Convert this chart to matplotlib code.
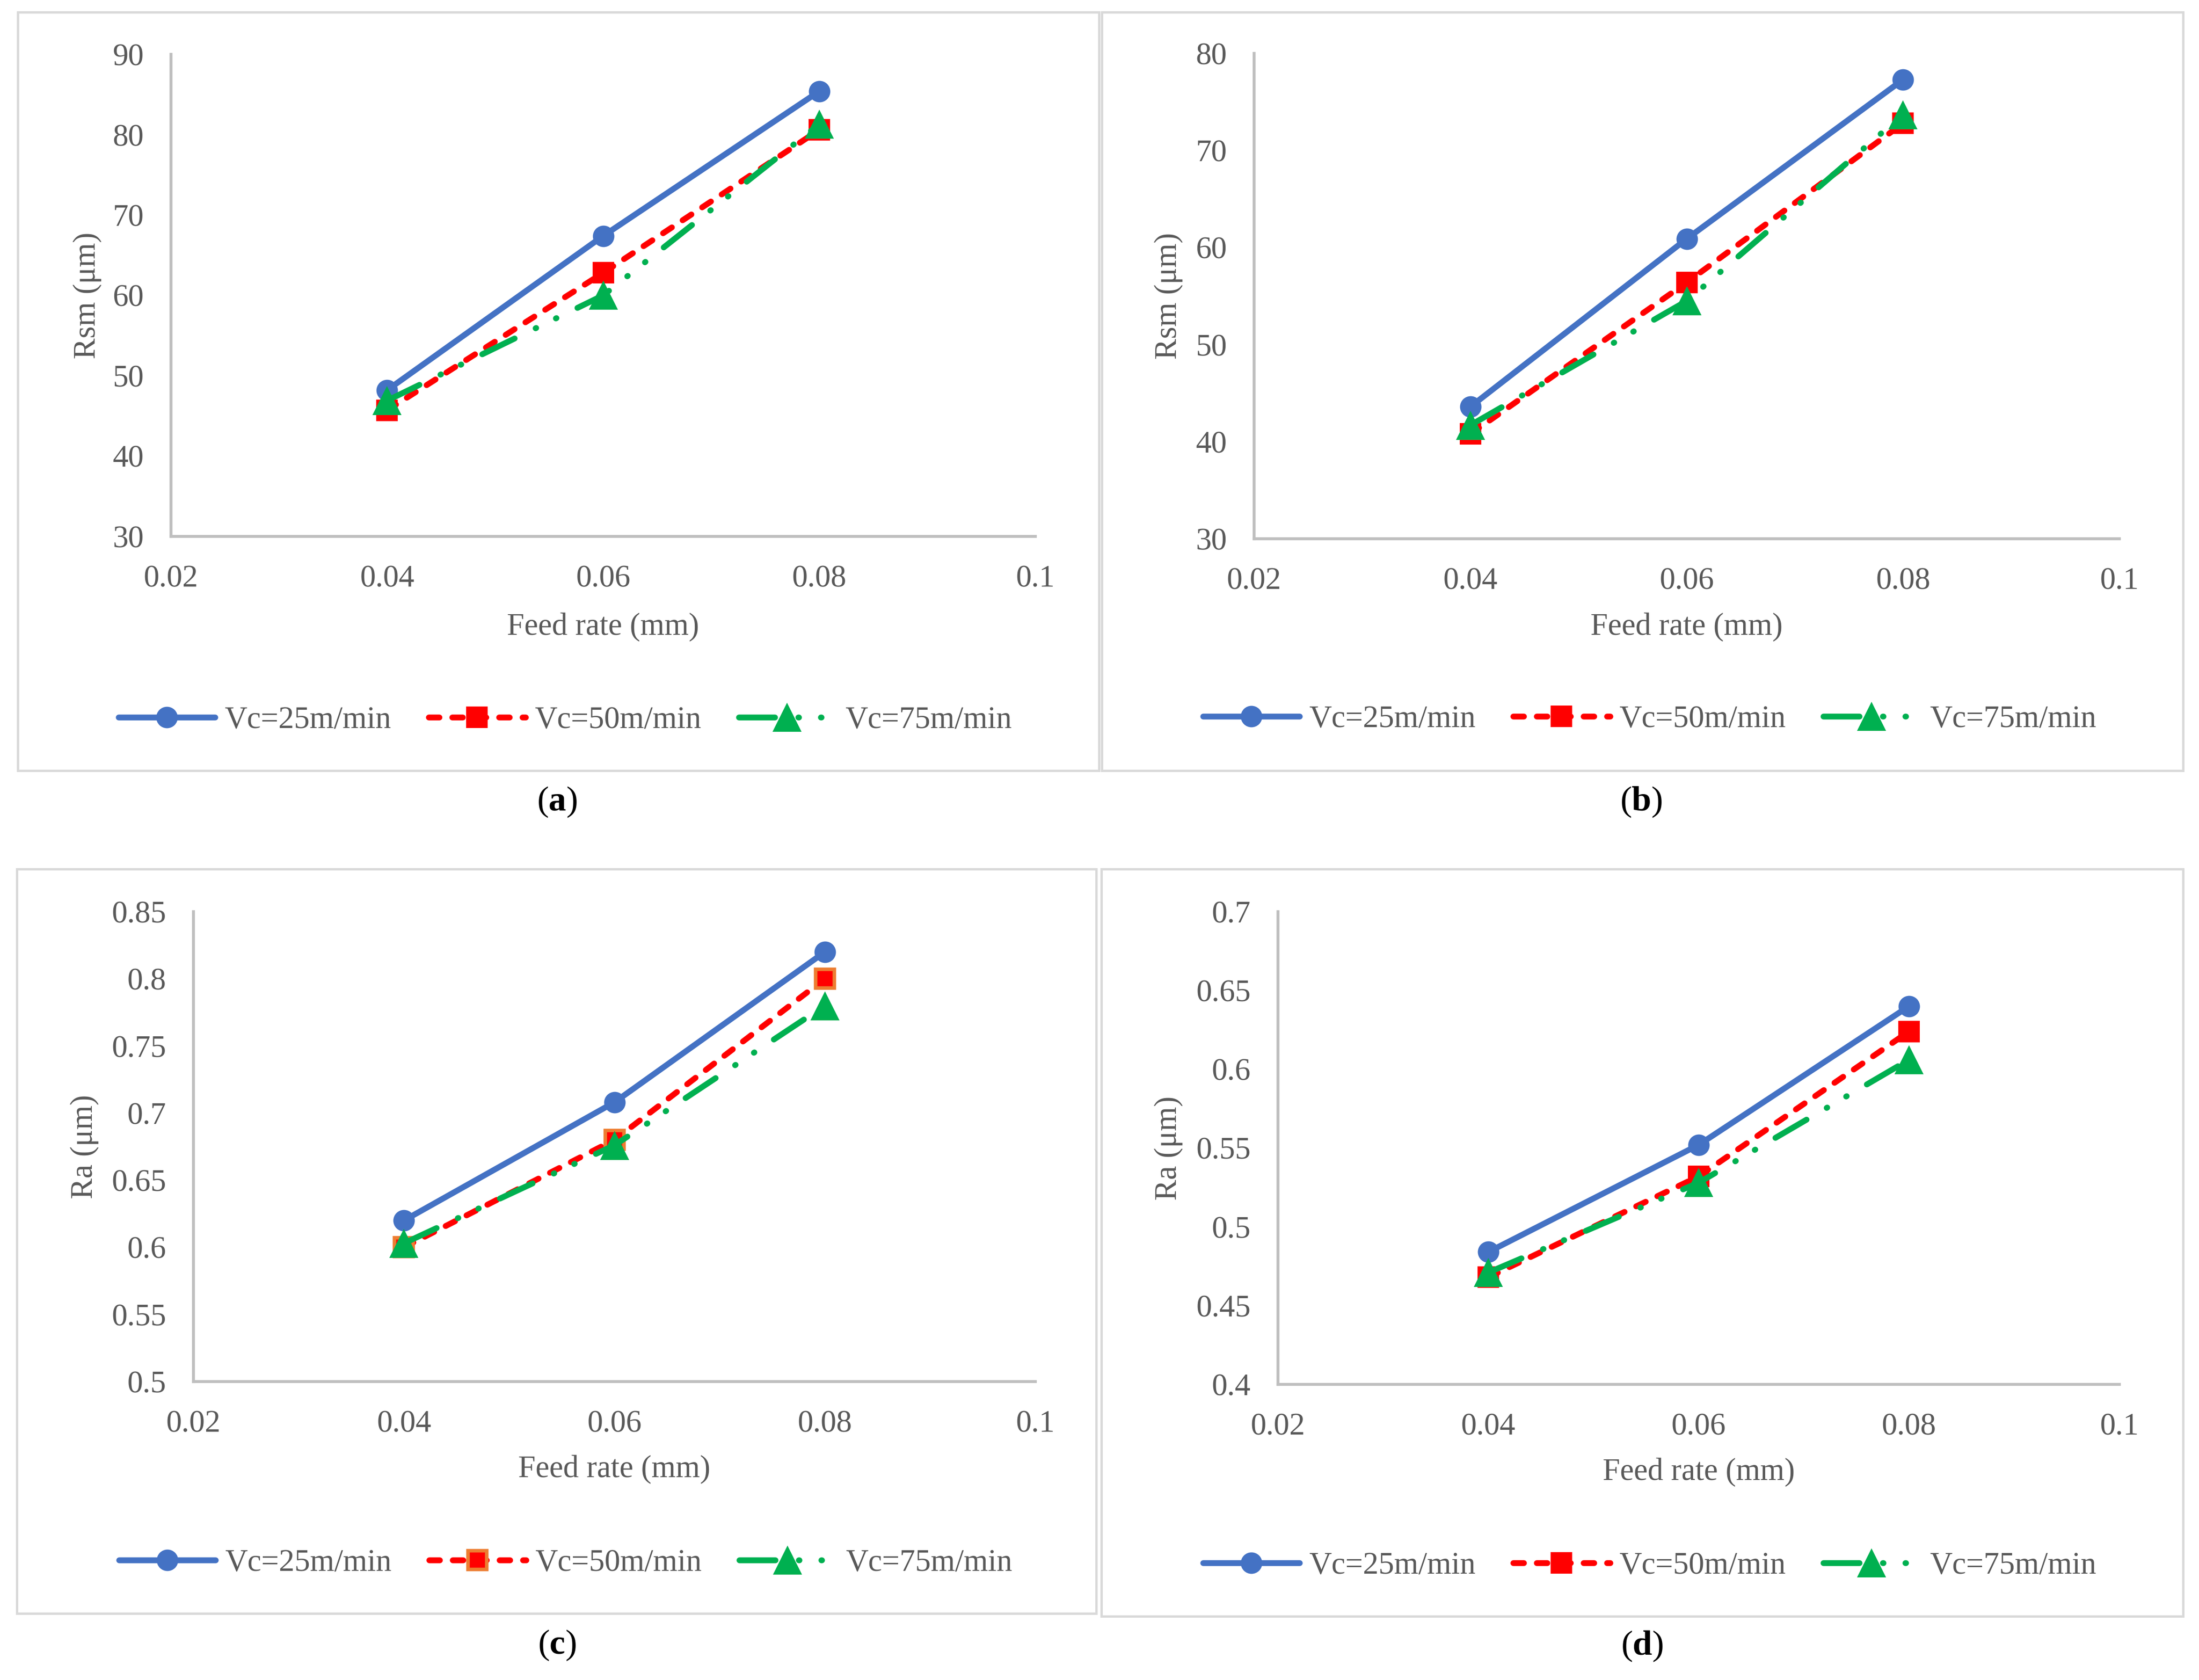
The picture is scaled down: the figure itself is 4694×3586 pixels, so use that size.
import numpy as np
import matplotlib
matplotlib.use("Agg")
import matplotlib.pyplot as plt
from matplotlib.patches import Rectangle

plt.rcParams['font.family'] = ['Liberation Serif', 'DejaVu Serif']
plt.rcParams['mathtext.fontset'] = 'custom'
plt.rcParams['mathtext.rm'] = 'Liberation Serif'
plt.rcParams['mathtext.bf'] = 'Liberation Serif:bold'

# data
feed = [0.04, 0.06, 0.08]
labels = ['Vc=25m/min', 'Vc=50m/min', 'Vc=75m/min']

rsm_a_25 = [48.2, 67.4, 85.4]
rsm_a_50 = [45.7, 62.8, 80.6]
rsm_a_75 = [46.9, 60.0, 81.3]

rsm_b_25 = [43.6, 60.9, 77.3]
rsm_b_50 = [40.8, 56.4, 72.8]
rsm_b_75 = [41.7, 54.5, 73.7]

ra_c_25 = [0.620, 0.708, 0.820]
ra_c_50 = [0.600, 0.680, 0.800]
ra_c_75 = [0.603, 0.676, 0.780]

ra_d_25 = [0.484, 0.552, 0.640]
ra_d_50 = [0.468, 0.532, 0.624]
ra_d_75 = [0.471, 0.528, 0.606]

xticks = [0.02, 0.04, 0.06, 0.08, 0.1]
xtick_labels = ['0.02', '0.04', '0.06', '0.08', '0.1']
yticks_a = [30, 40, 50, 60, 70, 80, 90]
yticks_b = [30, 40, 50, 60, 70, 80]
yticks_c = [0.5, 0.55, 0.6, 0.65, 0.7, 0.75, 0.8, 0.85]
ytick_labels_c = ['0.5', '0.55', '0.6', '0.65', '0.7', '0.75', '0.8', '0.85']
yticks_d = [0.4, 0.45, 0.5, 0.55, 0.6, 0.65, 0.7]
ytick_labels_d = ['0.4', '0.45', '0.5', '0.55', '0.6', '0.65', '0.7']

W, H = 4694, 3586
fig = plt.figure(figsize=(W / 300, H / 300), dpi=300)

def fx(px):
    return px / W

def fy(py):
    return 1 - py / H

GREY = '#595959'
BLUE, RED, GREEN = '#4472C4', '#FF0000', '#00B050'
LW = 3.0

# panel frames: left, top, right, bottom (pixels)
frames = [(38, 26, 2346, 1645), (2352, 26, 4660, 1645),
          (36, 1855, 2340, 3444), (2351, 1855, 4660, 3450)]
for l, t, r, b in frames:
    fig.add_artist(Rectangle((fx(l), fy(b)), fx(r) - fx(l), fy(t) - fy(b),
                             transform=fig.transFigure, fill=False,
                             edgecolor='#D9D9D9', linewidth=1.2))

panels = [
    dict(box=(365, 116, 2210, 1145), ys=(rsm_a_25, rsm_a_50, rsm_a_75),
         yt=yticks_a, ytl=[str(v) for v in yticks_a], ylab='Rsm (μm)',
         ylx=186, xly=1338, leg=(1206, 1538), cap=(1189, 1712), letter='a',
         sq_edge=None),
    dict(box=(2677, 114, 4524, 1150), ys=(rsm_b_25, rsm_b_50, rsm_b_75),
         yt=yticks_b, ytl=[str(v) for v in yticks_b], ylab='Rsm (μm)',
         ylx=2494, xly=1338, leg=(3521, 1536), cap=(3503, 1712), letter='b',
         sq_edge=None),
    dict(box=(413, 1946, 2210, 2949), ys=(ra_c_25, ra_c_50, ra_c_75),
         yt=yticks_c, ytl=ytick_labels_c, ylab='Ra (μm)',
         ylx=180, xly=3136, leg=(1207, 3337), cap=(1189, 3512), letter='c',
         sq_edge='#ED7D31'),
    dict(box=(2728, 1946, 4524, 2955), ys=(ra_d_25, ra_d_50, ra_d_75),
         yt=yticks_d, ytl=ytick_labels_d, ylab='Ra (μm)',
         ylx=2494, xly=3142, leg=(3521, 3343), cap=(3505, 3514), letter='d',
         sq_edge=None),
]

for p in panels:
    x0, y0, x1, y1 = p['box']
    ax = fig.add_axes([fx(x0), fy(y1), fx(x1) - fx(x0), fy(y0) - fy(y1)])
    y25, y50, y75 = p['ys']
    ax.plot(feed, y25, color=BLUE, lw=LW, marker='o', ms=11, mew=0,
            solid_capstyle='round', label=labels[0])
    if p['sq_edge']:
        ax.plot(feed, y50, color=RED, lw=LW, marker='s', ms=9.4, mfc=RED,
                mec=p['sq_edge'], mew=1.8, dashes=(1.8, 2.2),
                dash_capstyle='round', label=labels[1])
    else:
        ax.plot(feed, y50, color=RED, lw=LW, marker='s', ms=11, mew=0,
                dashes=(1.8, 2.2), dash_capstyle='round', label=labels[1])
    ax.plot(feed, y75, color=GREEN, lw=LW, marker='^', ms=15, mew=0,
            dashes=(6.15, 3.99, 0.1, 3.75, 0.1, 3.99), dash_capstyle='round',
            label=labels[2])

    ax.set_xlim(xticks[0], xticks[-1])
    ax.set_ylim(p['yt'][0], p['yt'][-1])
    ax.set_xticks(xticks)
    ax.set_xticklabels(xtick_labels)
    ax.set_yticks(p['yt'])
    ax.set_yticklabels(p['ytl'])
    ax.tick_params(length=0, labelsize=16, labelcolor=GREY)
    ax.tick_params(axis='y', pad=13.9)
    ax.tick_params(axis='x', pad=14.6)
    for s in ['top', 'right']:
        ax.spines[s].set_visible(False)
    for s in ['left', 'bottom']:
        ax.spines[s].set_color('#BFBFBF')
        ax.spines[s].set_linewidth(1.5)
    ax.set_facecolor('none')

    ax.set_xlabel('Feed rate (mm)', fontsize=16, color=GREY)
    ax.xaxis.set_label_coords(fx((x0 + x1) / 2), fy(p['xly']),
                              transform=fig.transFigure)
    ax.xaxis.label.set_va('center')
    ax.set_ylabel(p['ylab'], fontsize=16, color=GREY)
    ax.yaxis.set_label_coords(fx(p['ylx']), fy((y0 + y1) / 2),
                              transform=fig.transFigure)
    ax.yaxis.label.set_va('center')

    lx, ly = p['leg']
    ax.legend(loc='center', bbox_to_anchor=(fx(lx), fy(ly)),
              bbox_transform=fig.transFigure, ncol=3, frameon=False,
              fontsize=16, labelcolor=GREY, handlelength=3.1,
              handletextpad=0.3, columnspacing=1.2, borderpad=0)

    cx, cy = p['cap']
    fig.text(fx(cx), fy(cy), r'($\mathbf{%s}$)' % p['letter'], ha='center',
             va='center', fontsize=18, color='black')

fig.savefig('out.png', dpi=300, facecolor='white')
